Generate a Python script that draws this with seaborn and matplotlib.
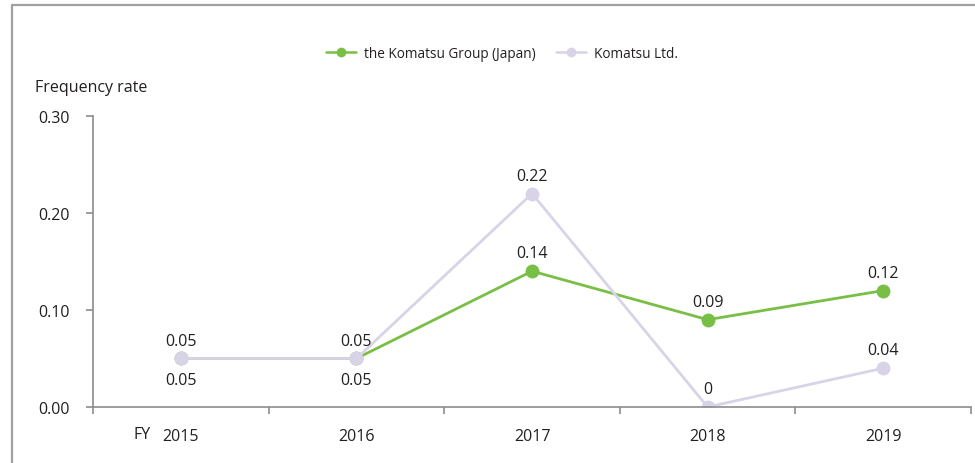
import matplotlib
matplotlib.use("Agg")
import matplotlib.pyplot as plt
import matplotlib.lines as mlines
import pandas as pd
import seaborn as sns

years = [2015, 2016, 2017, 2018, 2019]
group_japan = [0.05, 0.05, 0.14, 0.09, 0.12]
komatsu_ltd = [0.05, 0.05, 0.22, 0.00, 0.04]
series_names = ["the Komatsu Group (Japan)", "Komatsu Ltd."]
y_ticks = [0.00, 0.10, 0.20, 0.30]
y_tick_labels = ["0.00", "0.10", "0.20", "0.30"]

GREEN = "#7abf45"
LAVENDER = "#d9d3e8"
TEXT = "#231f20"
AXIS = "#8c8c8c"
FS = 11.5

sns.set_theme(style="white")
plt.rcParams["font.family"] = ["Open Sans", "DejaVu Sans"]

df = pd.DataFrame({
    "year": years * 2,
    "rate": group_japan + komatsu_ltd,
    "series": [series_names[0]] * len(years) + [series_names[1]] * len(years),
})

fig = plt.figure(figsize=(9.75, 4.64), dpi=100)
ax = fig.add_axes([0.0954, 0.1207, 0.9006, 0.6273])

sns.lineplot(
    data=df, x="year", y="rate", hue="series", hue_order=series_names,
    palette=[GREEN, LAVENDER], marker="o", markersize=10, markeredgewidth=0,
    linewidth=2, legend=False, ax=ax,
)

ax.set_xlim(years[0] - 0.5, years[-1] + 0.5)
ax.set_ylim(y_ticks[0], y_ticks[-1])
ax.set_xticks(years)
ax.set_xticklabels([str(y) for y in years])
ax.set_xticks([y - 0.5 for y in years] + [years[-1] + 0.5], minor=True)
ax.set_yticks(y_ticks)
ax.set_yticklabels(y_tick_labels)
ax.set_xlabel("")
ax.set_ylabel("")

for side in ("top", "right"):
    ax.spines[side].set_visible(False)
for side in ("left", "bottom"):
    ax.spines[side].set_color(AXIS)
    ax.spines[side].set_linewidth(1.2)

ax.tick_params(axis="x", which="major", length=0, pad=15, labelsize=FS, labelcolor=TEXT)
ax.tick_params(axis="x", which="minor", length=5, width=1.2, color=AXIS, direction="out", bottom=True)
ax.tick_params(axis="y", length=5, width=1.2, color=AXIS, pad=12, labelsize=FS,
               labelcolor=TEXT, left=True)

# value labels: the Komatsu Ltd. figures sit above their markers,
# the group figures above too except where the two series coincide
for x, g, k in zip(years, group_japan, komatsu_ltd):
    ax.annotate(f"{k:g}" if k == 0 else f"{k:.2f}", (x, k), xytext=(0, 7),
                textcoords="offset points", ha="center", va="bottom",
                fontsize=FS, color=TEXT)
    dy, va = (-10, "top") if g == k else (7, "bottom")
    ax.annotate(f"{g:.2f}", (x, g), xytext=(0, dy), textcoords="offset points",
                ha="center", va=va, fontsize=FS, color=TEXT)

fig.text(0.146, 0.0625, "FY", ha="center", va="center", fontsize=FS, color=TEXT)
fig.text(0.036, 0.81, "Frequency rate", ha="left", va="center", fontsize=FS, color=TEXT)

handles = [
    mlines.Line2D([], [], color=c, marker="o", markersize=7, markeredgewidth=0, linewidth=1.8)
    for c in (GREEN, LAVENDER)
]
fig.legend(handles, series_names, loc="center", bbox_to_anchor=(0.515, 0.882), ncol=2,
           frameon=False, fontsize=9.8, handlelength=2.2, columnspacing=1.5,
           handletextpad=0.6, labelcolor=TEXT)

# outer frame along the top and left edges
fig.add_artist(mlines.Line2D([0.0118, 1.0], [0.988, 0.988], transform=fig.transFigure,
                             color="#a0a0a0", linewidth=1.6))
fig.add_artist(mlines.Line2D([0.0118, 0.0118], [0.0, 0.988], transform=fig.transFigure,
                             color="#a0a0a0", linewidth=1.6))

fig.savefig("out.png", dpi=100, facecolor="white")
